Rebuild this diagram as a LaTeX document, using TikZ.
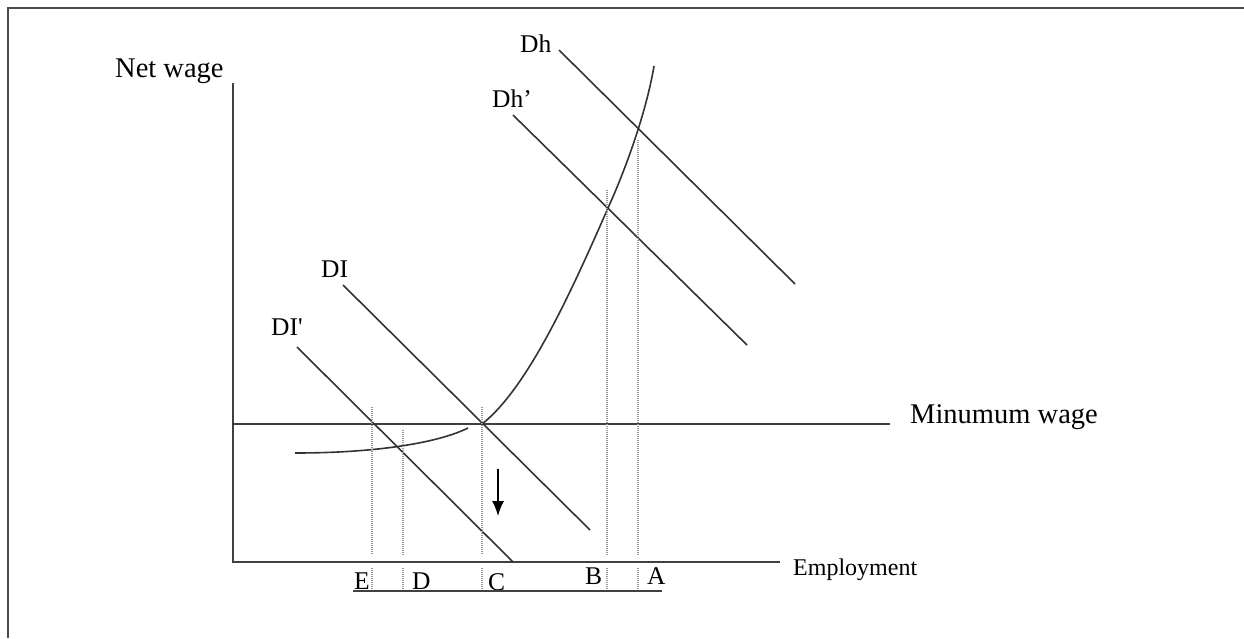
\documentclass[tikz,border=0pt]{standalone}
\usepackage{fontspec}
\setmainfont{Liberation Serif}
\usetikzlibrary{arrows.meta}

\begin{document}
\begin{tikzpicture}[x=1pt,y=-1pt,>=Latex,
    axis/.style={draw=black!75,line width=1.6pt},
    curve/.style={draw=black!80,line width=1.6pt},
    guide/.style={draw=black!40,line width=1.2pt,dash pattern=on 1pt off 1pt},
    lbl/.style={anchor=base west,inner sep=0pt,font=\fontsize{28.5}{30}\selectfont},
    tick/.style={anchor=base west,inner sep=0pt,font=\fontsize{25.5}{27}\selectfont}]
    \useasboundingbox (0,0) rectangle (1244,638);
    % frame
    \draw[black!70,line width=1.5pt] (1244,8) -- (8,8) -- (8,638);

    % axes and minimum wage
    \coordinate (origin) at (233,562);
    \coordinate (ytop) at (233,83);
    \coordinate (xend) at (780,562);
    \coordinate (mwl) at (232,424);
    \coordinate (mwr) at (890,424);
    \draw[axis] (ytop) -- (origin) -- (xend);
    \draw[axis] (mwl) -- (mwr);
    \node[lbl] (netwage) at (115,77) {Net wage};
    \node[lbl] (minwage) at (910,423) {Minumum wage};
    \node[anchor=base west,inner sep=0pt,font=\fontsize{24}{26}\selectfont] (employ) at (793,575) {Employment};

    % demand lines
    \coordinate (dh1) at (559,50);    \coordinate (dh2) at (795,284);
    \coordinate (dhp1) at (513,115);  \coordinate (dhp2) at (747,345);
    \coordinate (dl1) at (343,285);   \coordinate (dl2) at (590,530);
    \coordinate (dlp1) at (297,347);  \coordinate (dlp2) at (513,562);
    \draw[curve] (dh1) -- (dh2);
    \draw[curve] (dhp1) -- (dhp2);
    \draw[curve] (dl1) -- (dl2);
    \draw[curve] (dlp1) -- (dlp2);
    \node[tick] (dhlab) at (520,52) {Dh};
    \node[tick] (dhplab) at (492,107) {Dh’};
    \node[tick] (dllab) at (321,277) {DI};
    \node[tick] (dlplab) at (271,335) {DI\textquotesingle};

    % supply curve
    \coordinate (s0) at (295,453);
    \coordinate (s1) at (468,428);
    \coordinate (s2) at (482,424);
    \coordinate (s3) at (608,208);
    \coordinate (s4) at (654,66);
    \draw[curve] (s0) .. controls (380,453) and (440,442) .. (s1);
    \draw[curve] (s2) .. controls (528,388) and (572,290) .. (s3)
                      .. controls (624,173) and (646,114) .. (s4);

    % employment levels
    \foreach \name/\xx/\ytop/\lx/\ly in {E/372/407/354/589, D/403/430/412/589, C/482/407/488/590, B/607/190/585/584, A/638/140/647/584} {
        \draw[guide] (\xx,\ytop) -- (\xx,555);
        \draw[guide] (\xx,568) -- (\xx,590);
        \node[tick] (lev\name) at (\lx,\ly) {\name};
    }
    \coordinate (ul) at (353,591);
    \coordinate (ur) at (662,591);
    \draw[axis] (ul) -- (ur);

    % shift arrow
    \coordinate (arra) at (498,469);
    \coordinate (arrb) at (498,516);
    \draw[line width=1.4pt,-{Latex[length=15pt,width=12pt]}] (arra) -- (arrb);
\end{tikzpicture}
\end{document}
